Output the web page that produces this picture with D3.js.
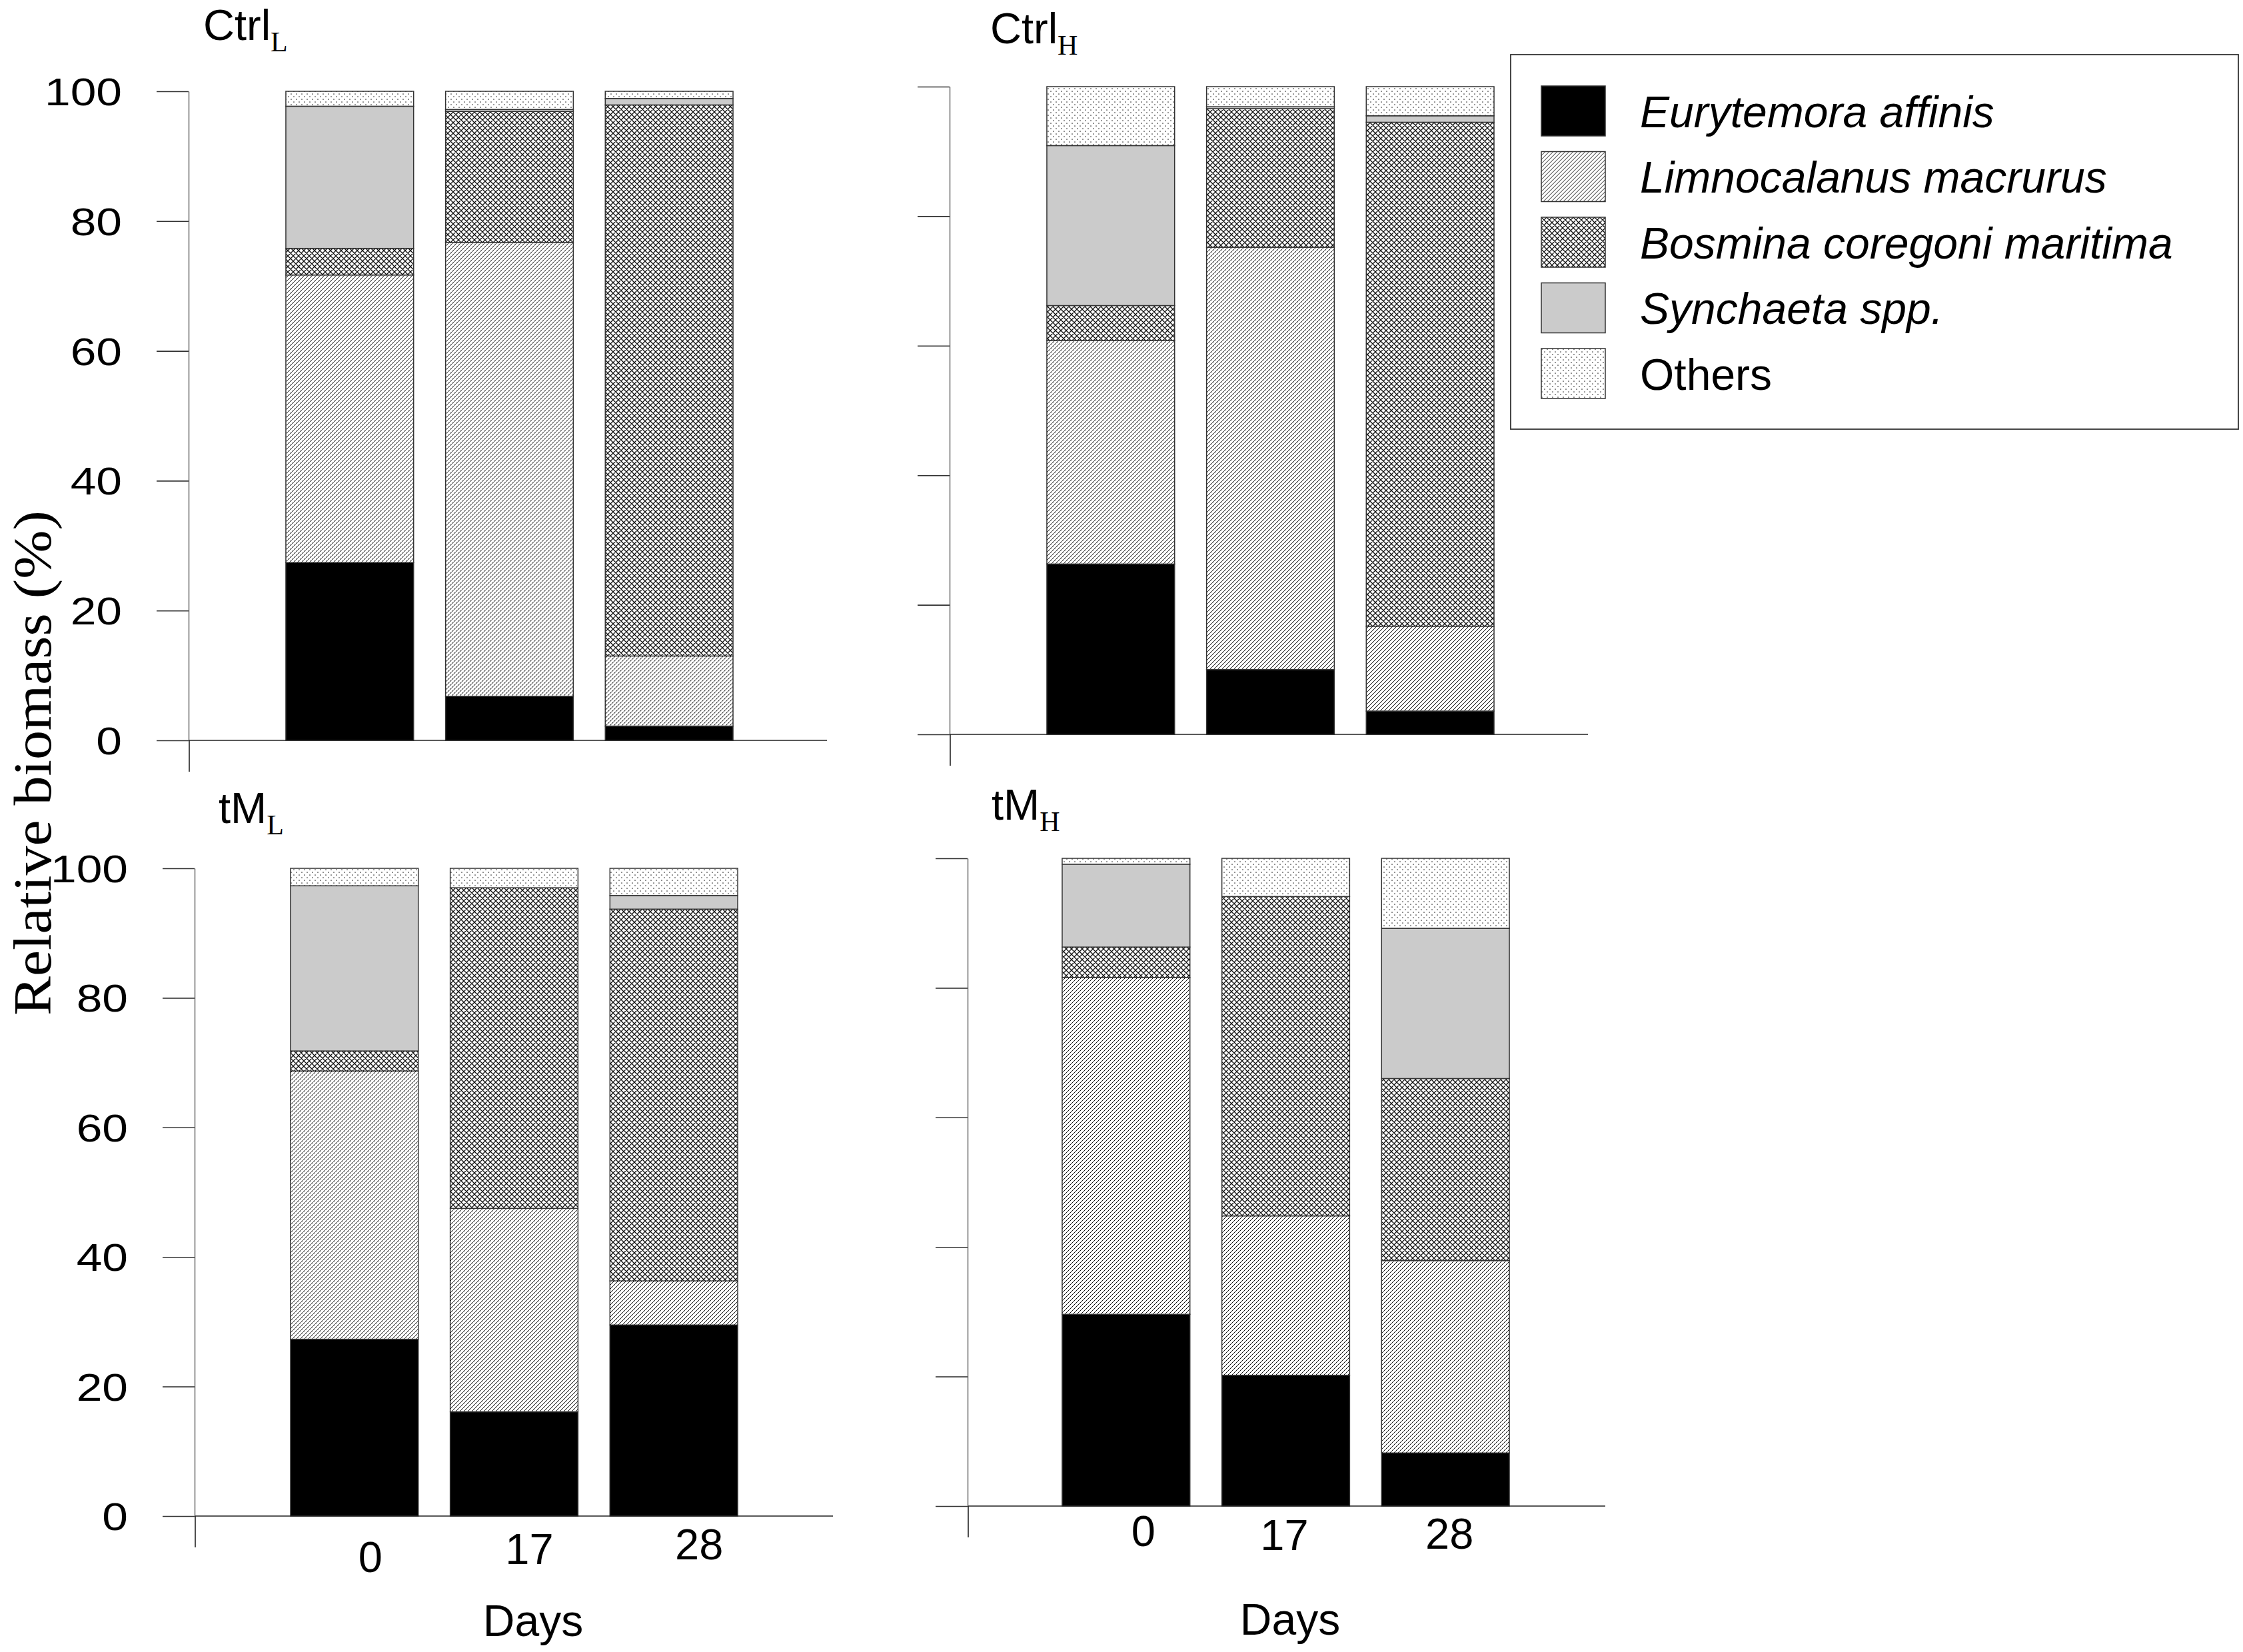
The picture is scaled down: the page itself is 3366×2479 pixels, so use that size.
<!DOCTYPE html>
<html><head><meta charset="utf-8">
<script src="https://cdn.jsdelivr.net/npm/d3@7/dist/d3.min.js"></script>
<style>body{margin:0;background:#fff}svg{display:block}</style>
</head><body>
<script>
// ---- data ----
const species = ["Eurytemora affinis","Limnocalanus macrurus","Bosmina coregoni maritima","Synchaeta spp.","Others"];
const speciesItalic = [true,true,true,true,false];
const days = ["0","17","28"];
const yTicks = [0,20,40,60,80,100];
// rows = days (0, 17, 28); columns = species in the order above (% of biomass)
const ctrlL = [[27.4,44.3,4.1,21.9,2.3],[6.8,69.9,20.2,0.3,2.8],[2.2,10.8,84.9,1.0,1.1]];
const ctrlH = [[26.3,34.5,5.4,24.7,9.1],[10.0,65.2,21.4,0.3,3.1],[3.6,13.1,77.8,1.0,4.5]];
const tML   = [[27.3,41.4,3.1,25.5,2.7],[16.1,31.4,49.5,0.0,3.0],[29.5,6.8,57.4,2.1,4.2]];
const tMH   = [[29.6,52.0,4.7,12.8,0.9],[20.2,24.6,49.3,0.0,5.9],[8.2,29.7,28.1,23.2,10.8]];
const panelNames = ["Ctrl","Ctrl","tM","tM"];
const panelSubs = ["L","H","L","H"];

// ---- layout ----
const W = 3366, H = 2479;
const layout = [
  {data:ctrlL, ax:283, top:137, base:1111, bx:405, xEnd:1241, yLab:true, labEdge:183, tx:305, ty:60, xl:null},
  {data:ctrlH, ax:1425, top:130, base:1102, bx:1547, xEnd:2383, yLab:false, tx:1486, ty:65, xl:null},
  {data:tML, ax:292, top:1303, base:2275, bx:412, xEnd:1250, yLab:true, labEdge:192, tx:328, ty:1235,
     xl:[[24,2359],[23,2347],[38,2340]], daysX:800, daysY:2455},
  {data:tMH, ax:1452, top:1288, base:2260, bx:1570, xEnd:2409, yLab:false, tx:1488, ty:1230,
     xl:[[26,2320],[-2,2326],[6,2324]], daysX:1936, daysY:2453}
];

const svg = d3.select("body").append("svg").attr("width",W).attr("height",H);
svg.append("rect").attr("width",W).attr("height",H).attr("fill","#fff");

// ---- patterns ----
const defs = svg.append("defs");
function pat(id,w,h){
  const p = defs.append("pattern").attr("id",id).attr("patternUnits","userSpaceOnUse").attr("width",w).attr("height",h);
  p.append("rect").attr("width",w).attr("height",h).attr("fill","#fff");
  return p;
}
pat("pLimno",6,6).append("path").attr("d","M0,6L6,0M-1,1L1,-1M5,7L7,5").attr("stroke","#111").attr("stroke-width",1).attr("fill","none");
const pb = pat("pBos",8,8);
pb.append("path").attr("d","M0,8L8,0M-2,2L2,-2M6,10L10,6M0,0L8,8M-2,6L2,10M6,-2L10,2").attr("stroke","#111").attr("stroke-width",1.3).attr("fill","none");
const po = pat("pOth",8,8);
po.append("circle").attr("cx",1).attr("cy",1).attr("r",0.85).attr("fill","#333");
po.append("circle").attr("cx",5).attr("cy",5).attr("r",0.85).attr("fill","#333");
const fills = ["#000","url(#pLimno)","url(#pBos)","#cbcbcb","url(#pOth)"];
const color = d3.scaleOrdinal().domain(d3.range(species.length)).range(fills);

const stack = d3.stack().keys(d3.range(species.length));

layout.forEach((P,pi)=>{
  const g = svg.append("g");
  const y = d3.scaleLinear().domain([0,100]).range([P.base,P.top]);
  const x = d3.scaleBand().domain(days).range([P.bx,P.bx+719]).paddingInner(0.2).paddingOuter(0.1);
  const rows = P.data.map((r,i)=>Object.assign({day:days[i]}, r));
  const series = stack(rows);
  // bars
  g.selectAll("g.s").data(series).join("g").attr("class","s")
    .attr("fill",d=>color(d.key))
    .selectAll("rect").data(d=>d.filter(v=>v[1]-v[0]>0)).join("rect")
    .attr("x",d=>x(d.data.day)).attr("width",x.bandwidth())
    .attr("y",d=>y(d[1])).attr("height",d=>y(d[0])-y(d[1]))
    .attr("stroke","#333").attr("stroke-width",1.5);
  // y axis
  const ya = g.append("g").attr("transform",`translate(${P.ax},0)`)
    .call(d3.axisLeft(y).tickValues(yTicks).tickSize(48).tickSizeOuter(0).tickFormat(P.yLab?d3.format("d"):()=>""));
  ya.select(".domain").attr("stroke","#777").attr("stroke-width",1.6);
  ya.selectAll(".tick line").attr("stroke","#333").attr("stroke-width",1.6);
  ya.selectAll(".tick text").attr("x",null).attr("dy","0.36em")
    .attr("transform",`translate(${P.yLab?P.labEdge-P.ax:0},0) scale(1.22,1)`)
    .attr("text-anchor","end").attr("fill","#000")
    .style("font-family","'Liberation Sans',Arial,sans-serif").style("font-size","57px");
  // x axis line + stub
  g.append("line").attr("x1",P.ax+1).attr("x2",P.xEnd).attr("y1",P.base).attr("y2",P.base)
    .attr("stroke","#222").attr("stroke-width",1.6);
  g.append("line").attr("x1",P.ax+1).attr("x2",P.ax+1).attr("y1",P.base).attr("y2",P.base+47)
    .attr("stroke","#222").attr("stroke-width",1.6);
  // x tick labels
  if(P.xl){
    g.selectAll("text.xl").data(days).join("text").attr("class","xl")
      .attr("x",(d,i)=>x(d)+x.bandwidth()/2+P.xl[i][0]).attr("y",(d,i)=>P.xl[i][1])
      .attr("text-anchor","middle")
      .style("font-family","'Liberation Sans',Arial,sans-serif").style("font-size","65px")
      .text(d=>d);
    g.append("text").attr("x",P.daysX).attr("y",P.daysY).attr("text-anchor","middle")
      .style("font-family","'Liberation Sans',Arial,sans-serif").style("font-size","66px").text("Days");
  }
  // title
  const t = g.append("text").attr("x",P.tx).attr("y",P.ty)
    .style("font-family","'Liberation Sans',Arial,sans-serif").style("font-size","65px");
  t.append("tspan").text(panelNames[pi]);
  t.append("tspan").attr("dy",17).style("font-family","'Liberation Serif','Times New Roman',serif")
    .style("font-size","42px").text(panelSubs[pi]);
});

// y axis title
svg.append("text").attr("transform","translate(76,1145) rotate(-90) scale(1.1,1)").attr("text-anchor","middle")
  .style("font-family","'Liberation Serif','Times New Roman',serif").style("font-size","80px")
  .text("Relative biomass (%)");

// legend
const lg = svg.append("g");
lg.append("rect").attr("x",2267).attr("y",82).attr("width",1092).attr("height",562)
  .attr("fill","#fff").attr("stroke","#333").attr("stroke-width",1.8);
const li = lg.selectAll("g.li").data(species).join("g").attr("class","li")
  .attr("transform",(d,i)=>`translate(2313,${129+i*98.5})`);
li.append("rect").attr("width",96).attr("height",75).attr("fill",(d,i)=>color(i))
  .attr("stroke","#333").attr("stroke-width",1.5);
li.append("text").attr("x",148).attr("y",37.5+24)
  .style("font-family","'Liberation Sans',Arial,sans-serif").style("font-size","66px")
  .style("font-style",(d,i)=>speciesItalic[i]?"italic":"normal").text(d=>d);
</script>
</body></html>
